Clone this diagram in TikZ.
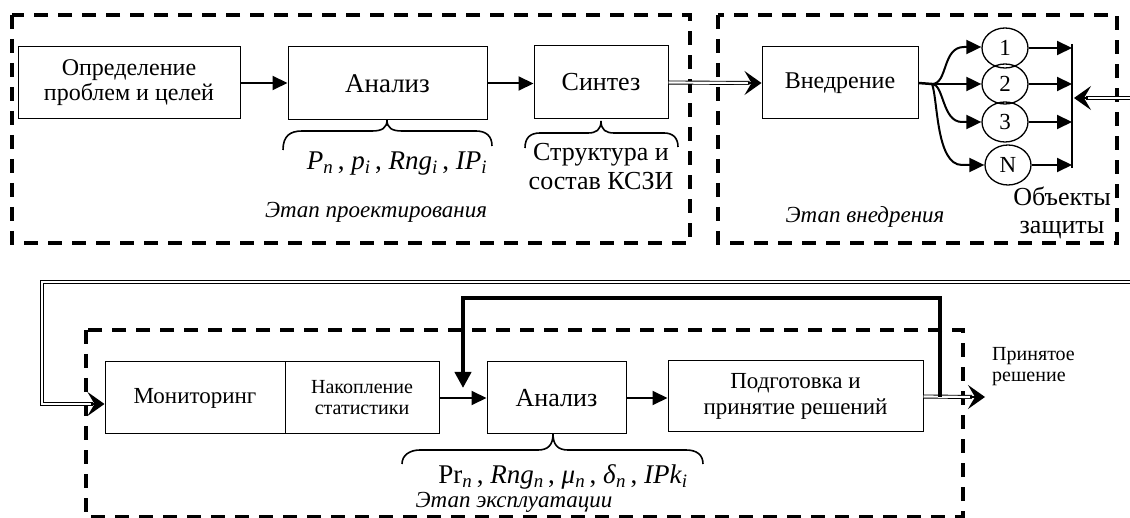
\documentclass[tikz,border=0pt]{standalone}
\usepackage{fontspec}
\usepackage{amsmath}
\setmainfont{Liberation Serif}
\usetikzlibrary{arrows.meta,shapes.geometric}
\newcommand{\fsz}[2]{\fontsize{#1}{#2}\selectfont}
\newcommand{\sv}[2]{\textit{#1}$_{\textit{#2}}$}
\begin{document}
\begin{tikzpicture}[x=1pt,y=-1pt,
  box/.style={draw, line width=1pt, align=center, inner sep=0pt, font=\fsz{24}{25}},
  obj/.style={draw, ellipse, line width=1.3pt, minimum width=46pt, minimum height=40pt, inner sep=0pt, font=\fsz{23}{24}},
  stage/.style={draw, line width=3.5pt, dash pattern=on 14pt off 10pt},
  arr/.style={line width=2pt, -{Triangle[length=15pt,width=14pt]}},
  dbl/.style={double, double distance=2.2pt, line width=0.9pt},
  dtip/.style={line width=1.6pt, -{Stealth[length=17pt,width=24pt,inset=7pt]}},
  brc/.style={line width=1.6pt},
  lbl/.style={inner sep=0pt, align=center},
  stg/.style={inner sep=0pt, align=center, font=\fsz{23}{24}\itshape}]
\useasboundingbox (0,0) rectangle (1130,518);

% stage frames
\draw[stage] (12,15) rectangle (690,243);
\draw[stage] (718,15) rectangle (1117,243);
\draw[stage] (86,330) rectangle (963,517);

% top row
\node[box, minimum width=222pt, minimum height=72pt] (def) at (129,83) {Определение\\проблем и целей};
\node[box, minimum width=199pt, minimum height=73pt, font=\fsz{27}{30}] (an1) at (387.5,83.5) {Анализ};
\node[box, minimum width=134pt, minimum height=73pt, font=\fsz{26}{30}] (syn) at (601,82.5) {Синтез};
\node[box, minimum width=156pt, minimum height=72pt] (vn) at (840,83) {Внедрение};

\draw[arr] (def.east) -- (an1.west |- def.east);
\draw[arr] (an1.east) -- (syn.west |- an1.east);
\draw[dbl] (syn.east) -- ([xshift=-12pt]vn.west);
\draw[dtip] ([xshift=-14pt]vn.west) -- (vn.west);

% objects
\node[obj] (c1) at (1005,48) {1};
\node[obj] (c2) at (1005,84) {2};
\node[obj] (c3) at (1005,122) {3};
\node[obj] (cN) at (1008,165) {N};

\coordinate (jn) at (932,84);
\draw[line width=2.5pt] (vn.east) -- (jn);
\draw[arr] (jn) .. controls (948,84) and (942,47) .. (964,47) -- (c1.west |- 0,47);
\draw[arr] (jn) -- (c2.west);
\draw[arr] (jn) .. controls (944,84) and (942,122) .. (962,122) -- (c3.west);
\draw[arr] (jn) .. controls (938,100) and (936,165) .. (962,165) -- (cN.west);

\coordinate (bartop) at (1072,44);
\coordinate (barbot) at (1072,168);
\draw[line width=2pt] (bartop) -- (barbot);
\draw[arr] (c1.east) -- (c1.east -| bartop);
\draw[arr] (c2.east) -- (c2.east -| bartop);
\draw[arr] (c3.east) -- (c3.east -| bartop);
\draw[arr] (cN.east) -- (cN.east -| bartop);

\coordinate (rin) at (1132,98);
\draw[dbl] (rin) -- (1086,98);
\draw[dtip] (1088,98) -- (1074,98);

% braces top
\draw[brc] (283,150) .. controls (283,136) and (290,131) .. (302,131) -- (372,131)
  .. controls (382,131) and (387,128) .. (387,120)
  .. controls (387,128) and (392,131) .. (402,131) -- (476,131)
  .. controls (486,131) and (492,136) .. (492,146);
\draw[brc] (525,148) .. controls (525,138) and (530,133) .. (540,133) -- (588,133)
  .. controls (596,133) and (601,130) .. (601,121)
  .. controls (601,130) and (606,133) .. (614,133) -- (664,133)
  .. controls (673,133) and (678,138) .. (678,147);

\node[lbl, font=\fsz{27}{28}] (m1) at (397,164) {\sv{P}{n}\,, \sv{p}{i}\,, \sv{Rng}{i}\,, \sv{IP}{i}};
\node[lbl, font=\fsz{26}{29}] (sk) at (601,167) {Структура и\\состав КСЗИ};
\node[stg] (st1) at (376,212) {Этап проектирования};
\node[stg] (st2) at (865,217) {Этап внедрения};
\node[lbl, font=\fsz{26}{28}] (ob) at (1062,213) {Объекты\\защиты};

% bottom row
\node[box, minimum width=180pt, minimum height=72pt, font=\fsz{23}{24}] (mon) at (195,398) {Мониторинг};
\node[box, minimum width=154pt, minimum height=72pt, font=\fsz{20}{21}] (nak) at (362,398) {Накопление\\статистики};
\node[box, minimum width=139pt, minimum height=72pt, font=\fsz{26}{28}] (an2) at (556.5,398) {Анализ};
\node[box, minimum width=255pt, minimum height=71pt, font=\fsz{23}{26}] (pod) at (795.5,396.5) {Подготовка и\\принятие решений};

\coordinate (fbR) at (1132,282);
\coordinate (fbL) at (42,282);
\draw[dbl] (fbR) -- (fbL) -- (42,404) -- ([xshift=-12pt,yshift=-6pt]mon.west);
\draw[dtip] ([xshift=-14pt,yshift=-6pt]mon.west) -- ([yshift=-6pt]mon.west);

\draw[arr] (nak.east) -- (an2.west);
\draw[arr] (an2.east) -- (an2.east -| pod.west);

\coordinate (outp) at (985,397);
\draw[dbl] (pod.east) -- (972,397);
\draw[dtip] (970,397) -- (outp);

\coordinate (fbs) at (940,397);
\coordinate (fbe) at (463,388);
\draw[line width=4pt, -{Triangle[length=16pt,width=16pt]}] (fbs) |- (463,298) -- (fbe);

\draw[brc] (402,464) .. controls (402,455) and (410,450) .. (420,450) -- (538,450)
  .. controls (548,450) and (553,445) .. (553,434)
  .. controls (553,445) and (558,450) .. (568,450) -- (686,450)
  .. controls (697,450) and (703,455) .. (703,464);

\node[lbl, font=\fsz{27}{28}] (m2) at (563,477) {\textup{Pr}$_{\textit{n}}$\,, \sv{Rng}{n}\,, \sv{μ}{n}\,, \sv{δ}{n}\,, \sv{IPk}{i}};
\node[stg] (st3) at (514,502) {Этап эксплуатации};
\node[lbl, font=\fsz{20}{21}, align=left, anchor=west] (pr) at (992,367) {Принятое\\решение};
\end{tikzpicture}
\end{document}
